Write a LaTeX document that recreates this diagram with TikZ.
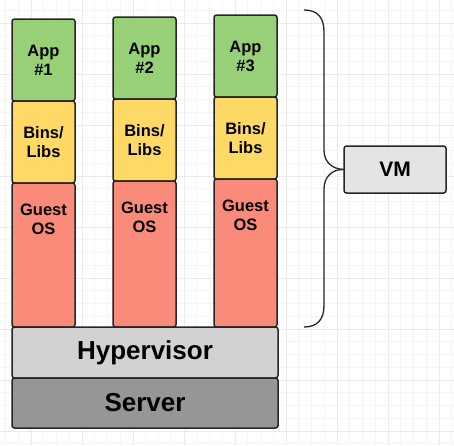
\documentclass[tikz,border=0pt]{standalone}
\usepackage{fontspec}
\setmainfont{Liberation Sans}
\usetikzlibrary{positioning}
\definecolor{appgreen}{RGB}{151,208,119}
\definecolor{binsyellow}{RGB}{255,217,102}
\definecolor{osred}{RGB}{250,138,122}
\definecolor{hypgray}{RGB}{210,210,210}
\definecolor{srvgray}{RGB}{150,150,150}
\definecolor{vmgray}{RGB}{228,228,228}
\tikzset{
  layer/.style={rectangle, rounded corners=2.5pt, draw=black!85, line width=1.5pt, anchor=north west, inner sep=0pt, outer sep=0pt, align=center, font=\bfseries\fontsize{16.5}{19}\selectfont},
  bigtxt/.style={font=\bfseries\fontsize{26}{28}\selectfont},
  gridminor/.style={black!4, line width=0.6pt},
  gridmajor/.style={black!8, line width=0.9pt}
}
\begin{document}
\begin{tikzpicture}[x=1pt,y=-1pt]
\useasboundingbox[fill=white] (0,0) rectangle (454,445);
% background grid
\foreach \i in {0,...,35} \draw[gridminor] (5.5+12.75*\i,0)--(5.5+12.75*\i,445);
\foreach \i in {0,...,34} \draw[gridminor] (0,10.25+12.75*\i)--(454,10.25+12.75*\i);
\foreach \i in {0,...,8} \draw[gridmajor] (31+51*\i,0)--(31+51*\i,445);
\foreach \i in {0,...,8} \draw[gridmajor] (0,23+51*\i)--(454,23+51*\i);
% the three stacks
\foreach \n/\x/\t in {1/12/19, 2/113/17, 3/214/15}{
  \node[layer, fill=appgreen, minimum width=63pt, minimum height=82pt] (app\n) at (\x,\t) {App\\\#\n};
  \node[layer, fill=binsyellow, minimum width=63pt, minimum height=82pt] (bins\n) at (app\n.south west) {Bins/\\Libs};
  \node[layer, fill=osred, minimum width=63pt, minimum height={327-\t-164}] (os\n) at (bins\n.south west) {};
  \node[font=\bfseries\fontsize{16.5}{19}\selectfont, align=center, below=17pt of os\n.north] (ostxt\n) {Guest\\OS};
}
% hypervisor and server
\node[layer, fill=hypgray, minimum width=266pt, minimum height=51pt, bigtxt] (hyp) at (12,327) {Hypervisor};
\node[layer, fill=srvgray, minimum width=266pt, minimum height=50pt, bigtxt] (srv) at (12,378) {Server};
% vm box and brace
\node[layer, fill=vmgray, minimum width=102pt, minimum height=47pt, font=\bfseries\fontsize{21}{24}\selectfont] (vm) at (344,146) {VM};
\coordinate (btop) at (304,10);
\coordinate (bbot) at (304,327);
\draw[line width=1.3pt, black!85] (btop) .. controls (318,10) and (324,18) .. (324,32) -- (324,150)
  .. controls (324,162) and (332,169) .. (vm.west);
\draw[line width=1.3pt, black!85] (bbot) .. controls (318,327) and (324,319) .. (324,305) -- (324,189)
  .. controls (324,177) and (332,169) .. (vm.west);
\end{tikzpicture}
\end{document}
